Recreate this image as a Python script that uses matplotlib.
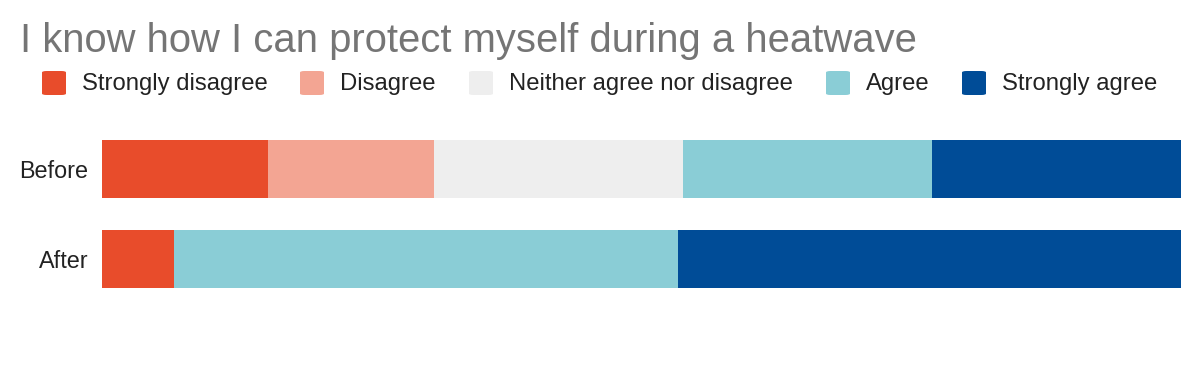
import matplotlib.pyplot as plt
from matplotlib.patches import FancyBboxPatch

plt.rcParams['font.family'] = ['Liberation Sans', 'DejaVu Sans']

# survey answers, share of respondents (%)
groups = ['Before', 'After']
categories = ['Strongly disagree', 'Disagree', 'Neither agree nor disagree',
              'Agree', 'Strongly agree']
before = [15.38, 15.38, 23.08, 23.08, 23.08]
after = [6.67, 0.0, 0.0, 46.67, 46.66]
colors = ['#E84C2B', '#F3A593', '#EEEEEE', '#8ACDD6', '#004C97']

W, H = 1200, 374
fig = plt.figure(figsize=(12, 3.74), dpi=100)
ax = fig.add_axes([102 / W, 1 - 304 / H, (1181 - 102) / W, 180 / H])

values = [before, after]
y = list(range(len(groups)))
left = [0.0] * len(groups)
for i, cat in enumerate(categories):
    widths = [v[i] for v in values]
    ax.barh(y, widths, left=left, height=0.644, color=colors[i], linewidth=0)
    left = [l + w for l, w in zip(left, widths)]

ax.set_xlim(0, 100)
ax.set_ylim(1.5, -0.5)
ax.set_yticks(y)
ax.set_yticklabels(groups, fontsize=16.8, color='#222222')
ax.tick_params(axis='y', length=0, pad=10)
ax.set_xticks([])
for s in ax.spines.values():
    s.set_visible(False)

fig.text(20 / W, 1 - 52 / H, 'I know how I can protect myself during a heatwave',
         fontsize=28.8, color='#757575', va='baseline', ha='left')

# legend row
sq_x = [42, 300, 469, 826, 962]
for x0, cat, c in zip(sq_x, categories, colors):
    fig.patches.append(FancyBboxPatch((x0 / W, 1 - 95 / H), 24 / W, 24 / H,
                                      boxstyle='round,pad=0,rounding_size=0.004',
                                      transform=fig.transFigure, facecolor=c,
                                      edgecolor='none'))
    fig.text((x0 + 40) / W, 1 - 90 / H, cat, fontsize=17.2, color='#222222',
             va='baseline', ha='left')

plt.savefig('out.png', dpi=100)
